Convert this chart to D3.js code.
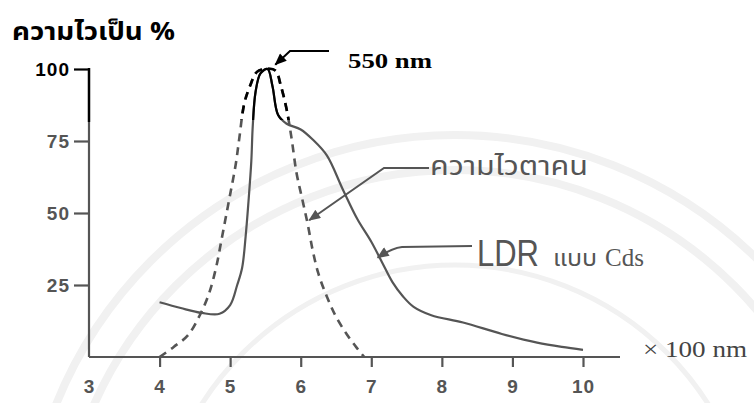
<!DOCTYPE html>
<html lang="th">
<head>
<meta charset="UTF-8">
<title>LDR spectral response</title>
<style>
    body { margin: 0; background: #fff; }
    #chart { width: 754px; height: 403px; }
    .tick text { font-family: "Liberation Sans", Arial, sans-serif; font-size: 19px; font-weight: bold; fill: #555; letter-spacing: 1px; }
    .thai { font-family: "Noto Sans Thai", "Loma", "Garuda", "Tlwg Typo", "DejaVu Sans", sans-serif; }
</style>
</head>
<body>
<div id="chart"></div>
<script src="https://d3js.org/d3.v7.min.js"></script>
<script>
// wavelength in units of 100 nm
const xTicks = [3, 4, 5, 6, 7, 8, 9, 10];
const yTicks = [25, 50, 75, 100];

// LDR (CdS) response, solid line
const ldrX = [4.0, 4.3, 4.6, 4.85, 5.0, 5.1, 5.17, 5.22, 5.26, 5.3, 5.32, 5.36, 5.43, 5.53, 5.6, 5.68, 5.8, 6.0, 6.17, 6.37, 6.6, 6.8, 7.0, 7.15, 7.3, 7.45, 7.6, 7.85, 8.3, 8.85, 9.35, 9.7, 10.0];
const ldrY = [19, 17, 15.3, 15, 18, 25, 31, 42, 54, 68, 80, 92, 98.5, 100, 94, 84, 81, 79, 75.5, 70, 58, 48, 40, 33, 26, 21, 17.4, 14.5, 12, 8, 5, 3.5, 2.5];

// human eye response, dashed line
const eyeX = [4.0, 4.2, 4.4, 4.57, 4.7, 4.8, 4.88, 4.95, 5.02, 5.08, 5.13, 5.2, 5.28, 5.38, 5.5, 5.64, 5.72, 5.8, 5.87, 5.94, 6.02, 6.1, 6.17, 6.25, 6.37, 6.5, 6.65, 6.8, 6.9];
const eyeY = [0, 3.5, 7.5, 14.5, 22, 31, 41, 50, 59, 67, 76, 88, 94, 99, 100, 99.5, 94, 86, 76, 64, 55, 46, 37, 29, 21, 14, 8, 3, 0];

const width = 754, height = 403;
const svg = d3.select("#chart").append("svg")
    .attr("width", width)
    .attr("height", height);

const x = d3.scaleLinear().domain([3, 10]).range([89, 583]);
const y = d3.scaleLinear().domain([0, 100]).range([357, 69]);

// faint watermark arcs in the background
const wm = svg.append("g").attr("fill", "none").attr("stroke", "#f1f1f1");
[430, 395, 300].forEach((r, i) => {
    wm.append("circle").attr("cx", 455).attr("cy", 565).attr("r", r)
        .attr("stroke-width", i === 2 ? 5 : 8);
});

// arrowhead markers
const defs = svg.append("defs");
function marker(id, color) {
    defs.append("marker")
        .attr("id", id)
        .attr("viewBox", "0 -5 12 10")
        .attr("refX", 11).attr("refY", 0)
        .attr("markerWidth", 13).attr("markerHeight", 10)
        .attr("markerUnits", "userSpaceOnUse")
        .attr("orient", "auto")
        .append("path")
        .attr("d", "M0,-5L12,0L0,5Z")
        .attr("fill", color);
}
marker("arrGray", "#555");
marker("arrBlack", "#000");

defs.append("clipPath").attr("id", "topClip")
    .append("rect").attr("x", 0).attr("y", 0).attr("width", width).attr("height", 120);

// axes
const xAxis = svg.append("g")
    .attr("transform", `translate(0,${y(0)})`)
    .call(d3.axisBottom(x).tickValues(xTicks).tickSize(10).tickPadding(13).tickFormat(d3.format("d")));
xAxis.select(".domain").remove();
xAxis.selectAll(".tick line").attr("stroke", "#555").attr("stroke-width", 2.2)
    .filter(d => d === 3).remove();
xAxis.append("line")
    .attr("x1", x(3)).attr("x2", 620).attr("y1", 0).attr("y2", 0)
    .attr("stroke", "#555").attr("stroke-width", 2.2);

const yAxis = svg.append("g")
    .attr("transform", `translate(${x(3)},0)`)
    .call(d3.axisLeft(y).tickValues(yTicks).tickSize(15).tickPadding(4));
yAxis.select(".domain").remove();
yAxis.selectAll(".tick line").attr("stroke", d => d === 100 ? "#000" : "#555").attr("stroke-width", 2.2);
yAxis.selectAll(".tick text").style("fill", d => d === 100 ? "#000" : "#555");
yAxis.append("line")
    .attr("x1", 0).attr("x2", 0).attr("y1", y(0)).attr("y2", y(100) - 1)
    .attr("stroke", "#555").attr("stroke-width", 2.2);
yAxis.append("line")
    .attr("x1", 0).attr("x2", 0).attr("y1", 122).attr("y2", y(100) - 1)
    .attr("stroke", "#000").attr("stroke-width", 2.4);

// curves
const line = d3.line()
    .x(d => x(d[0]))
    .y(d => y(d[1]))
    .curve(d3.curveCatmullRom.alpha(0.5));
const ldr = ldrX.map((v, i) => [v, ldrY[i]]);
const eye = eyeX.map((v, i) => [v, eyeY[i]]);

function drawCurves(g, color) {
    g.append("path").datum(ldr).attr("d", line)
        .attr("fill", "none").attr("stroke", color).attr("stroke-width", 2.2);
    g.append("path").datum(eye).attr("d", line)
        .attr("fill", "none").attr("stroke", color).attr("stroke-width", 2.6)
        .attr("stroke-dasharray", "8,6");
}
drawCurves(svg.append("g"), "#555");
drawCurves(svg.append("g").attr("clip-path", "url(#topClip)"), "#000");

// annotations
svg.append("path")
    .attr("d", `M329,51L290,51L${x(5.64)},${y(101.5)}`)
    .attr("fill", "none").attr("stroke", "#000").attr("stroke-width", 2)
    .attr("marker-end", "url(#arrBlack)");
svg.append("text")
    .attr("x", 348).attr("y", 68)
    .attr("font-family", "Liberation Serif, serif")
    .attr("font-weight", "bold").attr("font-size", 22)
    .attr("textLength", 84).attr("lengthAdjust", "spacingAndGlyphs")
    .text("550 nm");

svg.append("path")
    .attr("d", `M429,168L384,168L${x(6.12)},${y(47.5)}`)
    .attr("fill", "none").attr("stroke", "#555").attr("stroke-width", 2)
    .attr("marker-end", "url(#arrGray)");
svg.append("text").attr("class", "thai")
    .attr("x", 430).attr("y", 175)
    .attr("font-size", 27).attr("fill", "#555")
    .attr("textLength", 158).attr("lengthAdjust", "spacingAndGlyphs")
    .text("ความไวตาคน");

svg.append("path")
    .attr("d", `M472,246L402,247Q392,248 ${x(7.09)},${y(34.5)}`)
    .attr("fill", "none").attr("stroke", "#555").attr("stroke-width", 2)
    .attr("marker-end", "url(#arrGray)");
svg.append("text")
    .attr("x", 477).attr("y", 266)
    .attr("font-family", "Liberation Sans, sans-serif")
    .attr("font-size", 36).attr("fill", "#555")
    .attr("textLength", 62).attr("lengthAdjust", "spacingAndGlyphs")
    .text("LDR");
svg.append("text").attr("class", "thai")
    .attr("x", 553).attr("y", 266)
    .attr("font-size", 23).attr("fill", "#555")
    .attr("textLength", 44).attr("lengthAdjust", "spacingAndGlyphs")
    .text("แบบ");
svg.append("text")
    .attr("x", 605).attr("y", 266)
    .attr("font-family", "Liberation Serif, serif")
    .attr("font-size", 25).attr("fill", "#555")
    .text("Cds");

svg.append("text")
    .attr("x", 643).attr("y", 357)
    .attr("font-family", "Liberation Serif, serif")
    .attr("font-size", 24).attr("fill", "#444")
    .attr("textLength", 104).attr("lengthAdjust", "spacingAndGlyphs")
    .text("× 100 nm");

// y-axis title
svg.append("text").attr("class", "thai")
    .attr("x", 12).attr("y", 40)
    .attr("font-size", 25).attr("font-weight", "bold").attr("fill", "#000")
    .attr("textLength", 163).attr("lengthAdjust", "spacingAndGlyphs")
    .text("ความไวเป็น %");
</script>
</body>
</html>
